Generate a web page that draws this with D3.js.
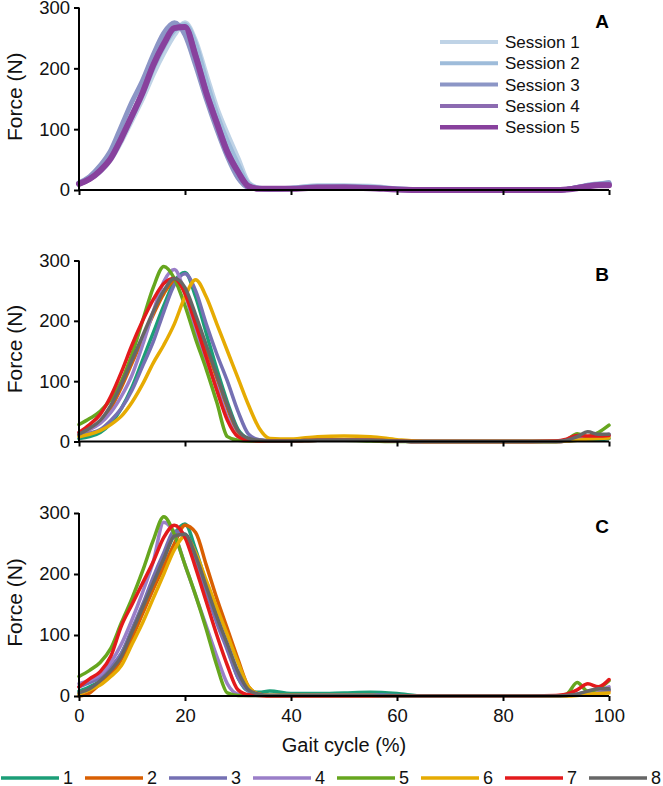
<!DOCTYPE html>
<html>
<head>
<meta charset="utf-8">
<script src="https://cdn.jsdelivr.net/npm/d3@7"></script>
<style>
  body { margin: 0; background: #fff; }
  text { font-family: "Liberation Sans", Arial, sans-serif; }
</style>
</head>
<body>
<div id="chart"></div>
<script>
// gait cycle sample points (%)
const pct = [0, 2, 4, 6, 8, 10, 12, 14, 16, 18, 20, 22, 24, 26, 28, 30, 32, 34, 36, 40,
  45, 50, 55, 60, 65, 70, 80, 90, 92, 94, 96, 98, 100];

// panel A: sessions
const sessionNames = ['Session 1', 'Session 2', 'Session 3', 'Session 4', 'Session 5'];
const sessionColors = ['#bfd3e6', '#9ebcda', '#8c96c6', '#8c6bb1', '#88419d'];
const sessionA = [
  [10, 18, 30, 50, 80, 115, 150, 190, 225, 255, 275, 245, 190, 135, 92, 52, 12, 3, 2, 3, 7, 7, 6, 2, 0, 0, 0, 0, 1, 3, 8, 10, 12],
  [10, 19, 33, 52, 84, 120, 158, 200, 236, 262, 272, 240, 180, 125, 80, 42, 10, 3, 2, 3, 6, 6, 5, 2, 0, 0, 0, 0, 1, 4, 8, 10, 11],
  [12, 22, 40, 65, 105, 145, 180, 222, 258, 275, 255, 205, 150, 100, 55, 20, 4, 2, 1, 2, 5, 5, 4, 1, 0, 0, 0, 0, 1, 4, 7, 9, 12],
  [10, 18, 33, 53, 87, 124, 162, 206, 242, 267, 268, 222, 162, 112, 64, 30, 6, 2, 2, 2, 4, 5, 4, 1, 0, 0, 0, 0, 1, 4, 7, 9, 9],
  [10, 18, 32, 52, 85, 122, 160, 205, 240, 266, 268, 220, 160, 110, 62, 30, 6, 2, 2, 2, 4, 4, 3, 1, 0, 0, 0, 0, 1, 3, 6, 8, 8]
];

// panels B and C: trials 1..8
const trialNames = ['1', '2', '3', '4', '5', '6', '7', '8'];
const trialColors = ['#1b9e77', '#d95f02', '#7570b3', '#9a7ec8', '#66a61e', '#e6ab02', '#e31a1c', '#666666'];
const trialB = [
  [5, 8, 15, 30, 55, 90, 135, 180, 225, 265, 280, 240, 180, 120, 65, 20, 5, 2, 1, 1, 2, 2, 2, 1, 0, 0, 0, 0, 1, 2, 3, 3, 5],
  [10, 20, 32, 55, 90, 130, 170, 210, 245, 265, 250, 205, 155, 105, 55, 15, 4, 2, 1, 1, 2, 2, 2, 1, 0, 0, 0, 0, 1, 4, 8, 10, 10],
  [10, 14, 20, 35, 55, 85, 125, 165, 215, 260, 278, 250, 195, 145, 100, 50, 12, 3, 2, 2, 2, 2, 2, 1, 0, 0, 0, 0, 1, 3, 6, 8, 10],
  [15, 20, 30, 48, 75, 110, 160, 215, 265, 285, 245, 185, 135, 90, 40, 8, 2, 1, 1, 1, 2, 2, 2, 1, 0, 0, 0, 0, 1, 3, 5, 8, 12],
  [28, 38, 50, 70, 100, 145, 200, 255, 290, 270, 225, 170, 120, 65, 8, 2, 1, 1, 1, 1, 2, 2, 1, 0, 0, 0, 0, 0, 3, 13, 8, 15, 27],
  [8, 12, 18, 28, 42, 65, 95, 130, 160, 195, 240, 268, 240, 195, 150, 105, 60, 22, 5, 4, 8, 9, 8, 3, 0, 0, 0, 0, 1, 2, 4, 5, 6],
  [15, 28, 45, 75, 115, 160, 200, 235, 262, 270, 245, 195, 140, 85, 35, 8, 2, 1, 1, 1, 2, 2, 2, 1, 0, 0, 0, 1, 4, 10, 9, 9, 10],
  [12, 22, 35, 60, 95, 135, 175, 215, 250, 270, 255, 210, 160, 110, 60, 18, 5, 2, 1, 1, 2, 2, 2, 1, 0, 0, 0, 0, 2, 8, 16, 12, 12]
];
const trialC = [
  [8, 15, 25, 45, 70, 105, 145, 185, 225, 265, 282, 240, 185, 130, 80, 30, 8, 6, 8, 4, 4, 5, 6, 4, 0, 0, 0, 0, 1, 3, 6, 8, 10],
  [0, 5, 20, 35, 60, 95, 135, 175, 212, 250, 280, 268, 215, 160, 110, 60, 15, 3, 1, 1, 1, 1, 1, 0, 0, 0, 0, 0, 1, 2, 4, 6, 8],
  [15, 22, 30, 48, 70, 110, 150, 195, 235, 270, 265, 220, 170, 120, 75, 30, 8, 2, 1, 1, 2, 2, 2, 1, 0, 0, 0, 0, 1, 3, 6, 8, 10],
  [20, 26, 35, 55, 85, 125, 170, 220, 285, 265, 215, 165, 115, 65, 20, 3, 1, 1, 1, 1, 1, 1, 1, 0, 0, 0, 0, 0, 1, 3, 6, 10, 15],
  [32, 42, 55, 78, 120, 160, 205, 255, 294, 265, 215, 165, 110, 50, 5, 1, 1, 1, 1, 1, 1, 1, 1, 0, 0, 0, 0, 0, 3, 22, 8, 12, 25],
  [3, 10, 18, 32, 50, 85, 120, 160, 200, 240, 262, 235, 190, 145, 100, 55, 15, 3, 1, 1, 1, 1, 1, 0, 0, 0, 0, 0, 0, 1, 3, 4, 5],
  [15, 28, 40, 65, 115, 150, 185, 220, 260, 280, 260, 210, 155, 100, 50, 10, 2, 1, 0, 0, 0, 0, 0, 0, 0, 0, 0, 1, 3, 10, 20, 15, 27],
  [5, 12, 25, 42, 65, 105, 145, 185, 225, 262, 265, 230, 180, 130, 85, 40, 10, 3, 1, 1, 1, 1, 1, 0, 0, 0, 0, 0, 1, 3, 8, 12, 12]
];

const xTicks = [0, 20, 40, 60, 80, 100];
const yTicks = [0, 100, 200, 300];

function drawChart() {
  const width = 663, height = 786;

  const svg = d3.select('#chart').append('svg')
    .attr('width', width)
    .attr('height', height);

  const x = d3.scaleLinear().domain([0, 100]).range([79, 609]);

  const panels = [
    { letter: 'A', series: sessionA, colors: sessionColors, widths: [5, 5, 5, 5, 6], top: 7.5, bottom: 190, labels: false },
    { letter: 'B', series: trialB, colors: trialColors, widths: trialColors.map(() => 3.5), top: 260.5, bottom: 441.5, labels: false },
    { letter: 'C', series: trialC, colors: trialColors, widths: trialColors.map(() => 3.5), top: 513, bottom: 696, labels: true }
  ];

  panels.forEach(p => {
    const y = d3.scaleLinear().domain([0, 300]).range([p.bottom, p.top]);
    const g = svg.append('g');

    const line = d3.line()
      .x((d, i) => x(pct[i]))
      .y(d => y(d))
      .curve(d3.curveMonotoneX);

    g.selectAll('path.series')
      .data(p.series)
      .enter()
      .append('path')
      .attr('class', 'series')
      .attr('d', d => line(d))
      .attr('fill', 'none')
      .attr('stroke', (d, i) => p.colors[i])
      .attr('stroke-width', (d, i) => p.widths[i])
      .attr('stroke-linejoin', 'round')
      .attr('stroke-linecap', 'round');

    // axes
    const yAxis = g.append('g')
      .attr('transform', `translate(${x(0)},0)`)
      .call(d3.axisLeft(y).tickValues(yTicks).tickSize(5).tickPadding(4));
    const xAxis = g.append('g')
      .attr('transform', `translate(0,${p.bottom})`)
      .call(d3.axisBottom(x).tickValues(xTicks).tickSize(5).tickPadding(8)
        .tickFormat(p.labels ? d3.format('d') : ''));

    [yAxis, xAxis].forEach(a => {
      a.select('.domain').attr('stroke', '#000').attr('stroke-width', 2);
      a.selectAll('.tick line').attr('stroke', '#000').attr('stroke-width', 2);
      a.selectAll('.tick text')
        .attr('fill', '#111')
        .style('font-size', '18.5px')
        .style('font-family', '"Liberation Sans", Arial, sans-serif');
    });
    xAxis.select('.domain').attr('d', `M${x(0)},0H${x(100)}`);
    yAxis.select('.domain').attr('d', `M0,${p.bottom}V${p.top}`);

    g.append('text')
      .attr('transform', `translate(22,${(p.top + p.bottom) / 2 - 2}) rotate(-90)`)
      .attr('text-anchor', 'middle')
      .style('font-size', '21px')
      .attr('fill', '#111')
      .text('Force (N)');

    g.append('text')
      .attr('x', 602)
      .attr('y', p.top + 20)
      .attr('text-anchor', 'middle')
      .style('font-size', '19px')
      .style('font-weight', 'bold')
      .text(p.letter);
  });

  // x axis title
  svg.append('text')
    .attr('x', (x(0) + x(100)) / 2)
    .attr('y', 752)
    .attr('text-anchor', 'middle')
    .style('font-size', '20px')
    .attr('fill', '#111')
    .text('Gait cycle (%)');

  // panel A legend
  const legA = svg.append('g');
  sessionNames.forEach((name, i) => {
    const ly = 42 + i * 21.3;
    legA.append('line')
      .attr('x1', 440).attr('x2', 498)
      .attr('y1', ly).attr('y2', ly)
      .attr('stroke', sessionColors[i])
      .attr('stroke-width', i === 4 ? 4.5 : 4);
    legA.append('text')
      .attr('x', 505).attr('y', ly + 6)
      .style('font-size', '17px')
      .attr('fill', '#111')
      .text(name);
  });

  // bottom legend
  const legB = svg.append('g');
  trialNames.forEach((name, i) => {
    const lx = 1 + i * 84;
    legB.append('line')
      .attr('x1', lx).attr('x2', lx + 58)
      .attr('y1', 778).attr('y2', 778)
      .attr('stroke', trialColors[i])
      .attr('stroke-width', 3.5);
    legB.append('text')
      .attr('x', lx + 62).attr('y', 784)
      .style('font-size', '18px')
      .attr('fill', '#111')
      .text(name);
  });
}

window.onload = function () {
  drawChart();
};
</script>
</body>
</html>
